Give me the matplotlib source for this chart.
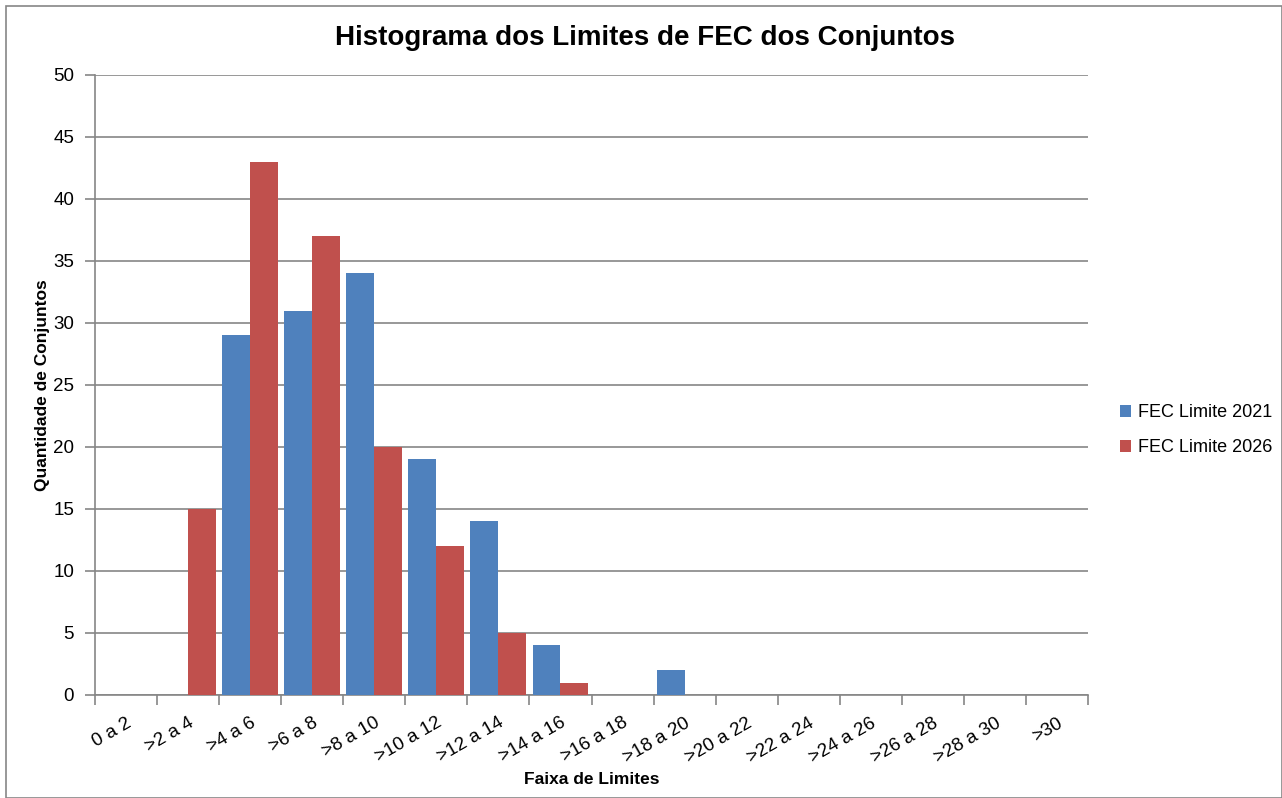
import matplotlib
matplotlib.use("Agg")
import matplotlib.pyplot as plt
import numpy as np
from matplotlib.patches import Rectangle

plt.rcParams['font.family'] = ['Liberation Sans', 'DejaVu Sans']

faixas = ["0 a 2", ">2 a 4", ">4 a 6", ">6 a 8", ">8 a 10", ">10 a 12", ">12 a 14",
          ">14 a 16", ">16 a 18", ">18 a 20", ">20 a 22", ">22 a 24", ">24 a 26",
          ">26 a 28", ">28 a 30", ">30"]
fec_2021 = [0, 0, 29, 31, 34, 19, 14, 4, 0, 2, 0, 0, 0, 0, 0, 0]
fec_2026 = [0, 15, 43, 37, 20, 12, 5, 1, 0, 0, 0, 0, 0, 0, 0, 0]

fig = plt.figure(figsize=(12.82, 7.98), dpi=100)
ax = fig.add_axes([0.0741, 0.1291, 0.7746, 0.777])

x = np.arange(len(faixas))
w = 0.45
ax.bar(x - w / 2, fec_2021, w, color="#4F81BD", label="FEC Limite 2021", zorder=3)
ax.bar(x + w / 2, fec_2026, w, color="#C0504D", label="FEC Limite 2026", zorder=3)

ax.set_xlim(-0.5, len(faixas) - 0.5)
ax.set_ylim(0, 50)
ax.set_yticks(np.arange(0, 51, 5))
ax.yaxis.grid(True, color="#868686", linewidth=1.2, zorder=0)

# ticks on category boundaries, labels at the centres
ax.set_xticks(np.arange(-0.5, len(faixas), 1))
ax.set_xticklabels([])
ax.set_xticks(x, minor=True)
ax.set_xticklabels(faixas, minor=True, rotation=30, ha="right", rotation_mode="anchor", fontsize=13.5)
ax.tick_params(axis="x", which="minor", length=0, pad=14)
ax.tick_params(axis="x", which="major", length=7, color="#868686", width=1.2)
ax.tick_params(axis="y", length=7, color="#868686", width=1.2, labelsize=13.5, pad=8)

for s in ["top", "right"]:
    ax.spines[s].set_visible(False)
for s in ["left", "bottom"]:
    ax.spines[s].set_color("#868686")
    ax.spines[s].set_linewidth(1.2)

fig.text(0.503, 0.952, "Histograma dos Limites de FEC dos Conjuntos", fontsize=20,
         fontweight="bold", ha="center", va="center")
ax.set_xlabel("Faixa de Limites", fontsize=12.5, fontweight="bold", labelpad=4)
ax.set_ylabel("Quantidade de Conjuntos", fontsize=12.5, fontweight="bold", labelpad=2)

ax.legend(loc="center left", bbox_to_anchor=(1.025, 0.427), frameon=False, fontsize=13,
          handlelength=0.6, handleheight=0.6, handletextpad=0.4, labelspacing=1.0,
          borderaxespad=0.0)

fig.patches.append(Rectangle((0.005, 0.0), 0.995, 0.993, transform=fig.transFigure,
                             fill=False, edgecolor="#868686", linewidth=1.2))

plt.savefig("out.png", dpi=100)
